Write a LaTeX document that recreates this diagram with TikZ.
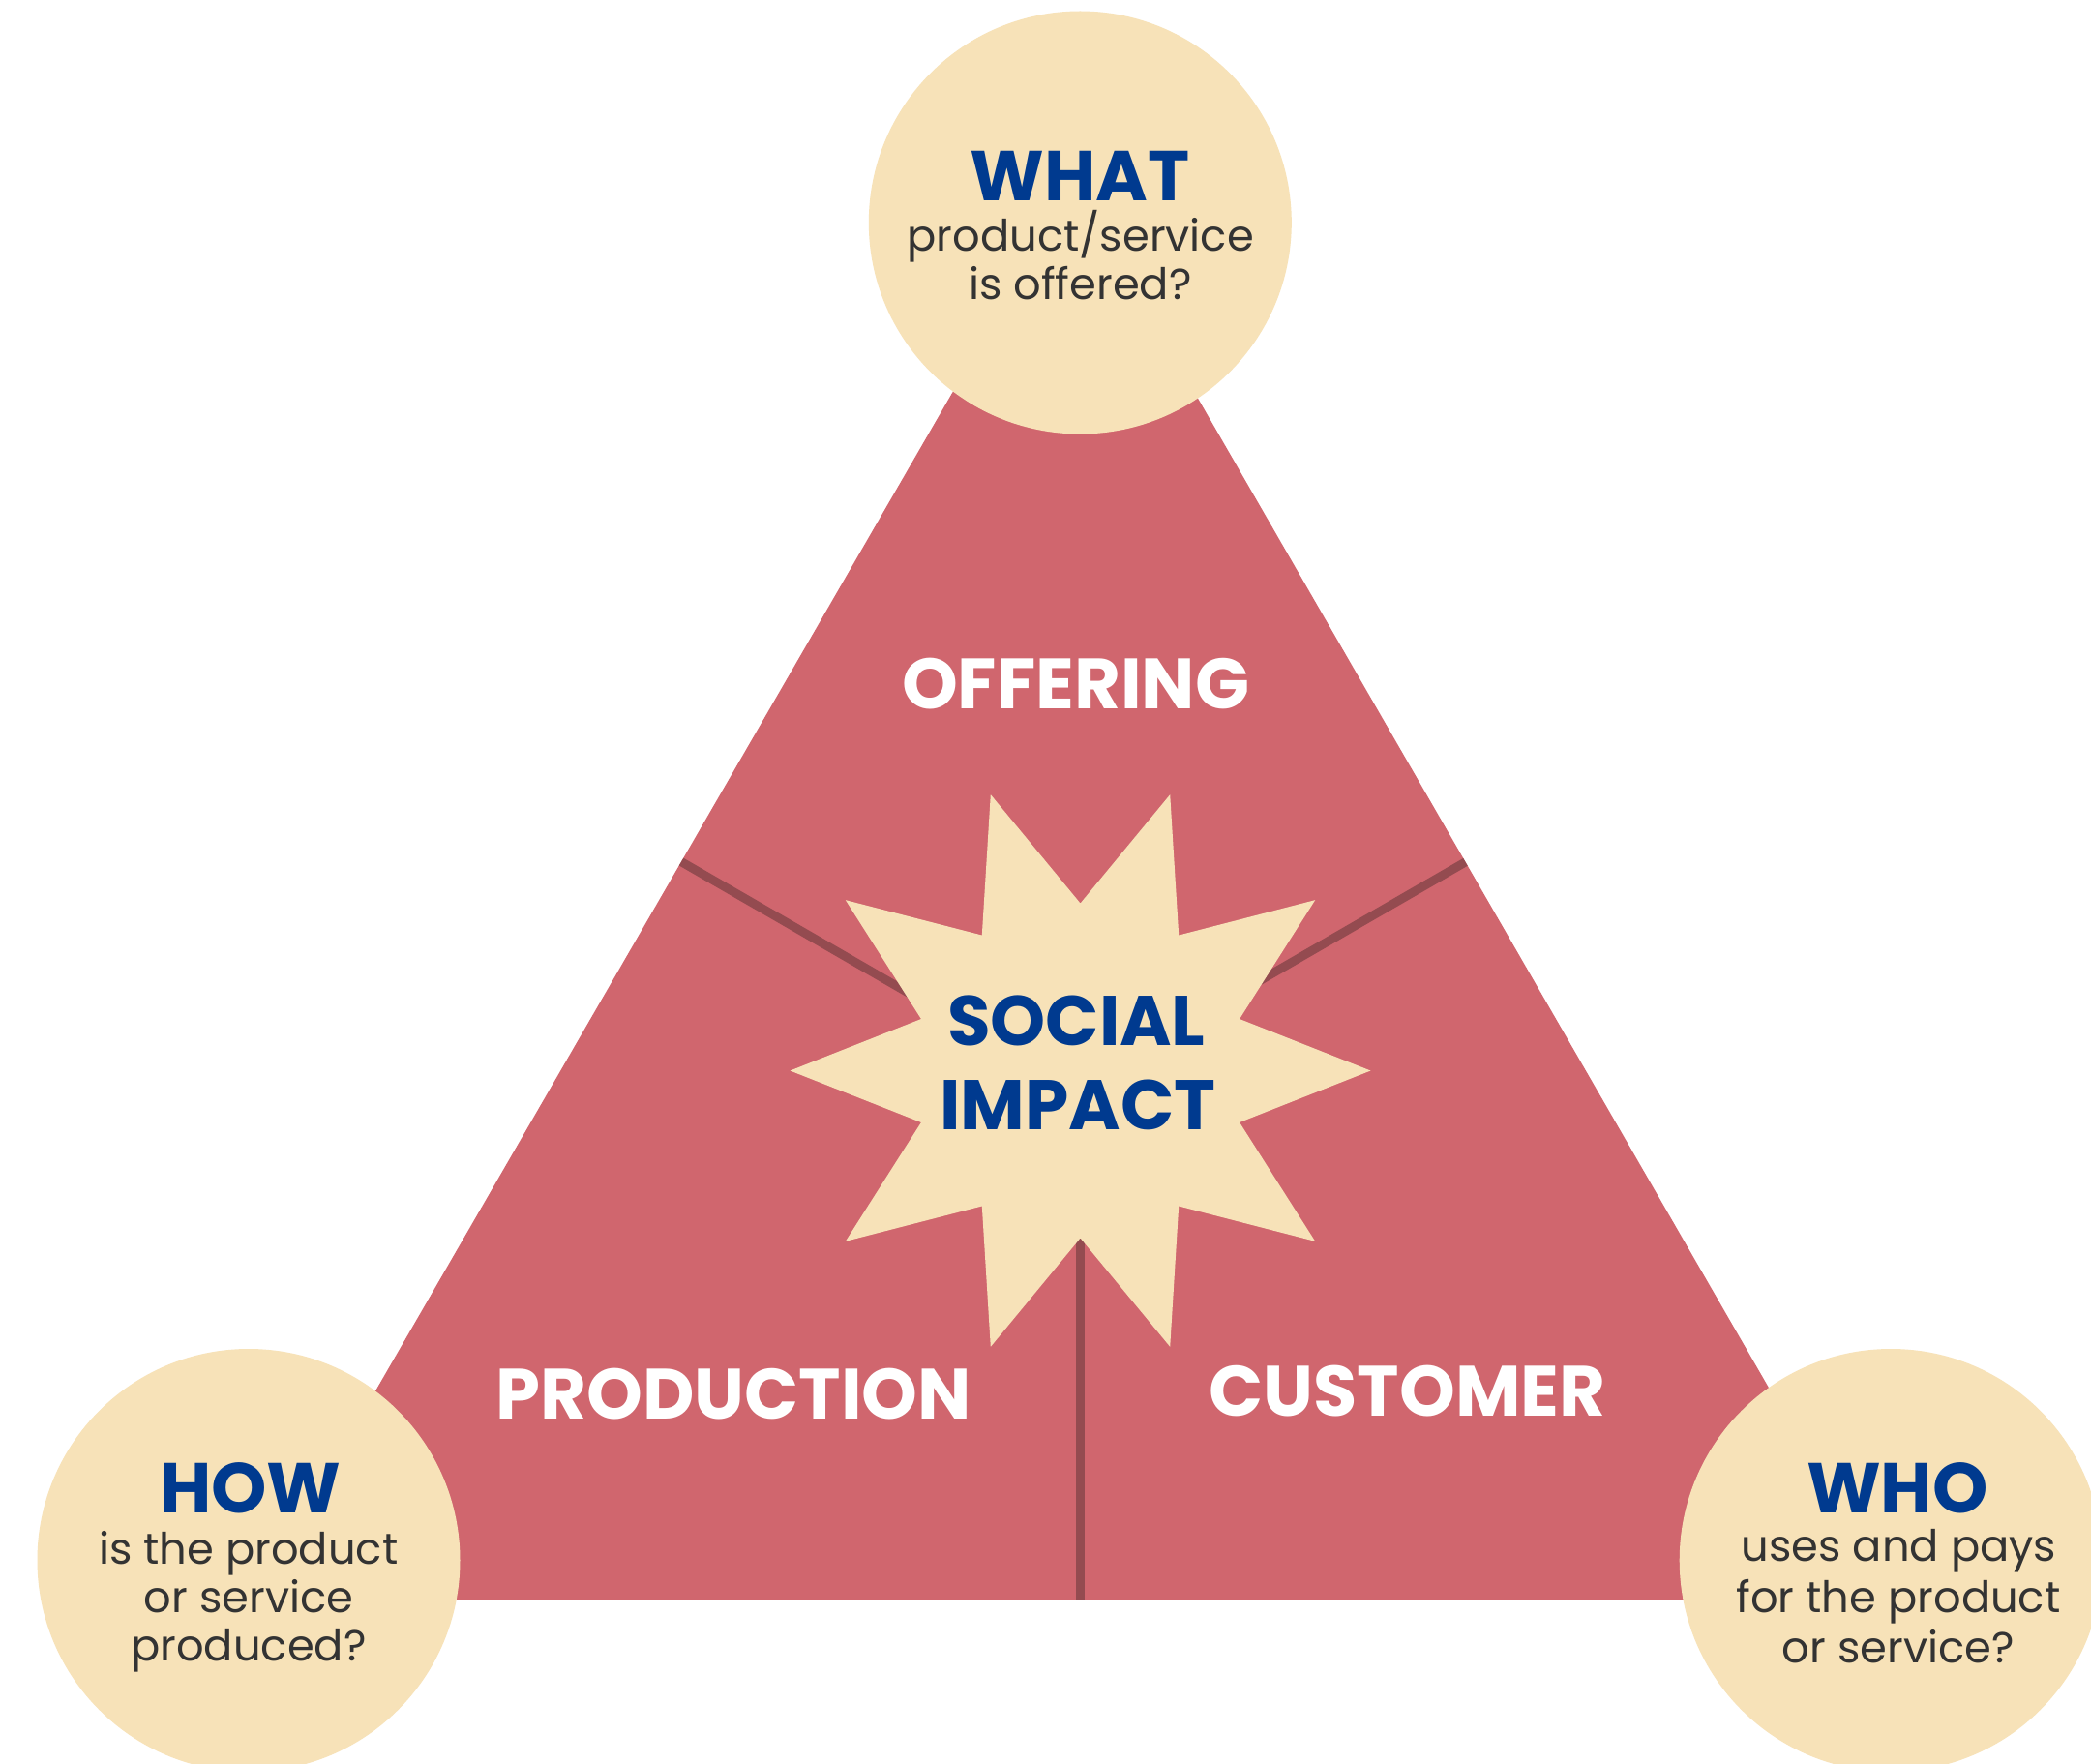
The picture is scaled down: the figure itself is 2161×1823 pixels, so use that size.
\documentclass[tikz,border=0pt]{standalone}
\usepackage{fontspec}
\setmainfont{Poppins}
\definecolor{tri}{HTML}{D0666E}
\definecolor{cream}{HTML}{F7E2B8}
\definecolor{divline}{HTML}{944B50}
\definecolor{navy}{HTML}{003A8F}
\definecolor{bodytxt}{HTML}{333333}
\tikzset{
  bubble/.style={circle, fill=cream, minimum size=218.5pt, inner sep=0pt},
  headtxt/.style={font=\fontsize{36.5}{40}\selectfont\bfseries, text=navy, anchor=base, inner sep=0pt},
  bodyline/.style={font=\fontsize{22.4}{26}\selectfont, text=bodytxt, anchor=base, inner sep=0pt},
  sectxt/.style={font=\fontsize{36.8}{40}\selectfont\bfseries, text=white, anchor=base, inner sep=0pt},
  startxt/.style={font=\fontsize{36.3}{40}\selectfont\bfseries, text=navy, anchor=base, inner sep=0pt},
  divider/.style={draw=divline, line width=4.5pt}
}
\begin{document}
\begin{tikzpicture}[x=0.5pt,y=-0.5pt]
\useasboundingbox (0,0) rectangle (2161,1823);
\clip (0,0) rectangle (2161,1823);
\fill[white] (0,0) rectangle (2161,1823);
% triangle
\coordinate (A) at (1109.5,189);
\coordinate (B) at (263.3,1653.3);
\coordinate (C) at (1954.4,1653.3);
\fill[tri] (A) -- (B) -- (C) -- cycle;
% dividers
\coordinate (hub) at (1109.5,1124.6);
\coordinate (ledge) at (650,859.4);
\coordinate (redge) at (1569,859.4);
\coordinate (vtop) at (1116.5,1106.5);
\coordinate (vbot) at (1116.5,1700);
\begin{scope}
  \clip (A) -- (B) -- (C) -- cycle;
  \draw[divider] (ledge) -- (hub);
  \draw[divider] (redge) -- (hub);
  \draw[divider] (vtop) -- (vbot);
\end{scope}
% star
\begin{scope}[shift={(1116.5,1106.5)}]
  \fill[cream] (0:300) \foreach \k in {0,...,9} { -- ({36*\k+18}:173) -- ({36*\k+36}:300) } -- cycle;
\end{scope}
\node[startxt] (social) at (1112.3,1080) {SOCIAL};
\node[startxt] (impact) at (1113.8,1167.6) {IMPACT};
% section labels
\node[sectxt] (offering) at (1111.7,732.7) {OFFERING};
\node[sectxt] (production) at (758.3,1466) {PRODUCTION};
\node[sectxt] (customer) at (1454.7,1463.3) {CUSTOMER};
% circles
\node[bubble] (topc) at (1116.3,230) {};
\node[bubble] (leftc) at (257,1612.5) {};
\node[bubble] (rightc) at (1954.2,1612.5) {};
% top texts
\node[headtxt] (what) at (1116,207.3) {WHAT};
\node[bodyline] (w1) at (1116.7,259.3) {product/service};
\node[bodyline] (w2) at (1116.3,310) {is offered?};
% left texts
\node[headtxt] (how) at (259,1563.3) {HOW};
\node[bodyline] (h1) at (256.7,1616) {is the product};
\node[bodyline] (h2) at (257,1666.7) {or service};
\node[bodyline] (h3) at (257,1716.7) {produced?};
% right texts
\node[headtxt] (who) at (1960.8,1563.3) {WHO};
\node[bodyline] (o1) at (1962.5,1613.3) {uses and pays};
\node[bodyline] (o2) at (1962,1666) {for the product};
\node[bodyline] (o3) at (1961.7,1718.3) {or service?};
\end{tikzpicture}
\end{document}
